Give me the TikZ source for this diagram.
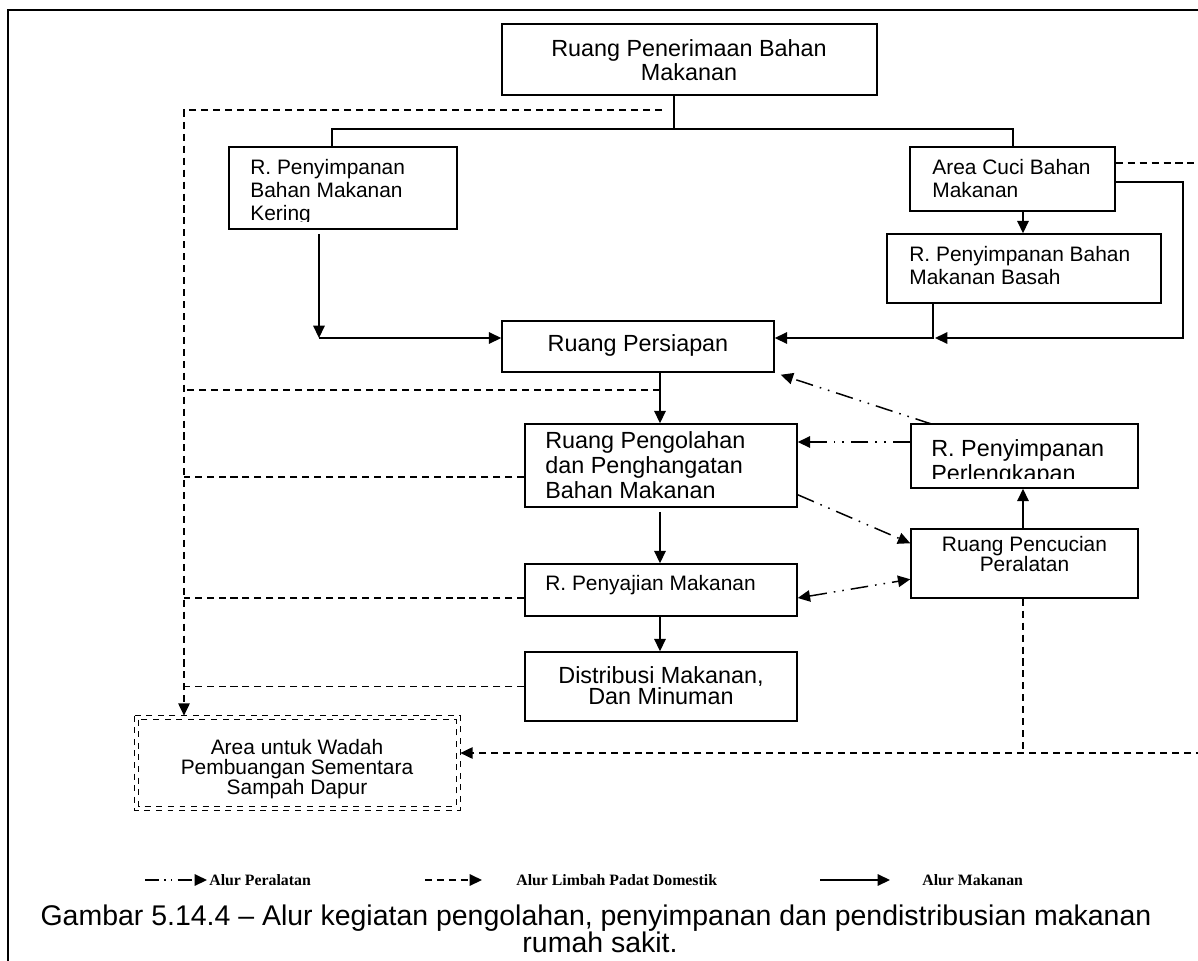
\documentclass[tikz,border=0pt]{standalone}
\usepackage{fontspec}
\setmainfont{Liberation Sans}
\newfontfamily\legendserif{Liberation Serif}
\usetikzlibrary{arrows.meta,calc,fit}
\lineskiplimit=-20pt

\begin{document}
\begin{tikzpicture}[x=0.02cm,y=-0.02cm,
  room/.style={draw,line width=0.85pt,inner sep=0pt},
  tsm/.style={font=\fontsize{11.9pt}{#1}\selectfont,inner sep=0pt},
  tlg/.style={font=\fontsize{13.3pt}{#1}\selectfont,inner sep=0pt},
  food/.style={line width=0.85pt},
  foodarrow/.style={food,-{Triangle[length=7pt,width=6.5pt]}},
  waste/.style={line width=0.85pt,dash pattern=on 4pt off 2.8pt},
  wastearrow/.style={waste,-{Triangle[length=7pt,width=6.5pt]}},
  equip/.style={line width=0.85pt,dash pattern=on 10pt off 4pt on 0.9pt off 4pt on 0.9pt off 4pt},
  equiparrow/.style={equip,-{Triangle[length=7pt,width=6.5pt]}},
  dblbox/.style={line width=0.8pt,dash pattern=on 3.4pt off 3.2pt},
  legendtext/.style={font=\legendserif\bfseries\fontsize{9pt}{10pt}\selectfont,inner sep=0pt,anchor=base west}
]
% canvas
\fill[white] (0,0) rectangle (1198,961);
\useasboundingbox (0,0) rectangle (1198,961);
\draw[line width=1.1pt] (8,975) -- (8,10) -- (1215,10);

% rooms
\node[room,fit={(502,24) (877,95)}] (top) {};
\node[room,fit={(229,147) (457,229)}] (kering) {};
\node[room,fit={(910,147) (1115,211)}] (cuci) {};
\node[room,fit={(887,234) (1161,303)}] (basah) {};
\node[room,fit={(502,321) (774,372)}] (persiapan) {};
\node[room,fit={(525,424) (797,507)}] (pengolahan) {};
\node[room,fit={(525,564) (797,616)}] (penyajian) {};
\node[room,fit={(525,652) (797,721)}] (distribusi) {};
\node[room,fit={(911,424) (1138,488)}] (perlengkapan) {};
\node[room,fit={(911,529) (1138,598)}] (pencucian) {};
\node[inner sep=0pt,fit={(135,716) (460,810)}] (dapur) {};
\draw[dblbox] (dapur.north west) rectangle (dapur.south east);
\draw[dblbox] ($(dapur.north west)+(4,4)$) rectangle ($(dapur.south east)+(-4,-4)$);

% room labels
\node[tlg=13.6pt,align=center,anchor=north] (ttop) at (689,39) {Ruang Penerimaan Bahan\\Makanan};
\begin{scope}
  \clip (229,147) rectangle (457,221);
  \node[tsm=13pt,align=left,anchor=north west] (tkering) at (250,159) {R. Penyimpanan\\Bahan Makanan\\Kering};
\end{scope}
\node[tsm=12.9pt,align=left,anchor=north west] (tcuci) at (932,159) {Area Cuci Bahan\\Makanan};
\node[tsm=12.9pt,align=left,anchor=north west] (tbasah) at (909,246) {R. Penyimpanan Bahan\\Makanan Basah};
\node[tlg=14pt,anchor=base] (tpersiapan) at (638,351.5) {Ruang Persiapan};
\node[tlg=14.3pt,align=left,anchor=north west] (tpengolahan) at (545,431) {Ruang Pengolahan\\dan Penghangatan\\Bahan Makanan};
\node[tsm=13pt,anchor=base west] (tpenyajian) at (545,590.5) {R. Penyajian Makanan};
\node[tlg=12.3pt,align=center,anchor=north] (tdistribusi) at (661,666) {Distribusi Makanan,\\Dan Minuman};
\begin{scope}
  \clip (911,424) rectangle (1138,478);
  \node[tlg=14.2pt,align=left,anchor=north west] (tperlengkapan) at (931,439) {R. Penyimpanan\\Perlengkapan};
\end{scope}
\node[tsm=11.3pt,align=center,anchor=north] (tpencucian) at (1024.5,536) {Ruang Pencucian\\Peralatan};
\node[tsm=11.3pt,align=center,anchor=north] (tdapur) at (297,739) {Area untuk Wadah\\Pembuangan Sementara\\Sampah Dapur};

% junction points
\coordinate (tj) at (674,129);
\coordinate (tl) at (332,129);
\coordinate (tr) at (1013,129);
\coordinate (kj) at (319,338);
\coordinate (cx) at (1023,222);
\coordinate (bj) at (933,338);
\coordinate (rc) at (1183,182);
\coordinate (ce) at (1215,163);
\coordinate (mx) at (660,0);
\coordinate (wtop) at (662,110);
\coordinate (wl) at (184,110);
\coordinate (w2) at (660,390);
\coordinate (w3) at (184,477);
\coordinate (w4) at (184,598);
\coordinate (wb) at (1023,753);
\coordinate (wr) at (1215,753);
\coordinate (ey) at (0,442);

% food flow (solid)
\draw[food] (tj |- top.south) -- (tj);
\draw[food] (tl |- kering.north) -- (tl) -- (tr) -- (tr |- cuci.north);
\draw[foodarrow] ($(kj |- kering.south)+(0,4)$) -- (kj);
\draw[foodarrow] (kj) -- (kj -| persiapan.west);
\draw[foodarrow] (cx |- cuci.south) -- (cx |- basah.north);
\draw[foodarrow] (bj |- basah.south) -- (bj) -- (bj -| persiapan.east);
\draw[foodarrow] (rc -| cuci.east) -- (rc) -- (rc |- bj) -- ($(bj)+(2,0)$);
\draw[foodarrow] (mx |- persiapan.south) -- (mx |- pengolahan.north);
\draw[foodarrow] ($(mx |- pengolahan.south)+(0,4)$) -- (mx |- penyajian.north);
\draw[foodarrow] (mx |- penyajian.south) -- (mx |- distribusi.north);
\draw[foodarrow] (cx |- pencucian.north) -- (cx |- perlengkapan.south);

% solid waste (dashed)
\draw[waste] (ce -| cuci.east) -- (ce);
\draw[wastearrow] (wtop) -- (wl) -- (wl |- dapur.north);
\draw[waste] (w2) -- (w2 -| wl);
\draw[waste] (w3 -| pengolahan.west) -- (w3);
\draw[waste] (w4 -| penyajian.west) -- (w4);
\draw[waste] (distribusi.west) -- (distribusi.west -| wl);
\draw[waste] (wb |- pencucian.south) -- (wb);
\draw[wastearrow] (wr) -- (wr -| dapur.east);

% equipment (dash-dot)
\draw[equiparrow] ($(perlengkapan.north west)+(22,1)$) -- ($(persiapan.south east)+(6,2)$);
\draw[equiparrow] (ey -| perlengkapan.west) -- (ey -| pengolahan.east);
\draw[equiparrow] ($(pengolahan.south east)+(0,-13)$) -- ($(pencucian.north west)+(0,15)$);
\draw[equiparrow,{Triangle[length=7pt,width=6.5pt]}-{Triangle[length=7pt,width=6.5pt]}] ($(penyajian.east)+(0,8)$) -- ($(pencucian.north west)+(0,51)$);

% legend
\coordinate (l1a) at (145,880); \coordinate (l1b) at (207,880);
\coordinate (l2a) at (425,880); \coordinate (l2b) at (482,880);
\coordinate (l3a) at (820,880); \coordinate (l3b) at (890,880);
\draw[equiparrow,dash pattern=on 8pt off 3pt on 0.8pt off 3pt on 0.8pt off 3pt on 8pt off 20pt] (l1a) -- (l1b);
\draw[wastearrow] (l2a) -- (l2b);
\draw[foodarrow] (l3a) -- (l3b);
\node[legendtext] (lg1) at (209,885) {Alur Peralatan};
\node[legendtext] (lg2) at (516,885) {Alur Limbah Padat Domestik};
\node[legendtext] (lg3) at (922,885) {Alur Makanan};

% caption
\node[font=\fontsize{16.2pt}{18pt}\selectfont,inner sep=0pt,anchor=base] (cap1) at (596,925) {Gambar 5.14.4 -- Alur kegiatan pengolahan, penyimpanan dan pendistribusian makanan};
\node[font=\fontsize{16.2pt}{18pt}\selectfont,inner sep=0pt,anchor=base] (cap2) at (600,952) {rumah sakit.};
\end{tikzpicture}
\end{document}
